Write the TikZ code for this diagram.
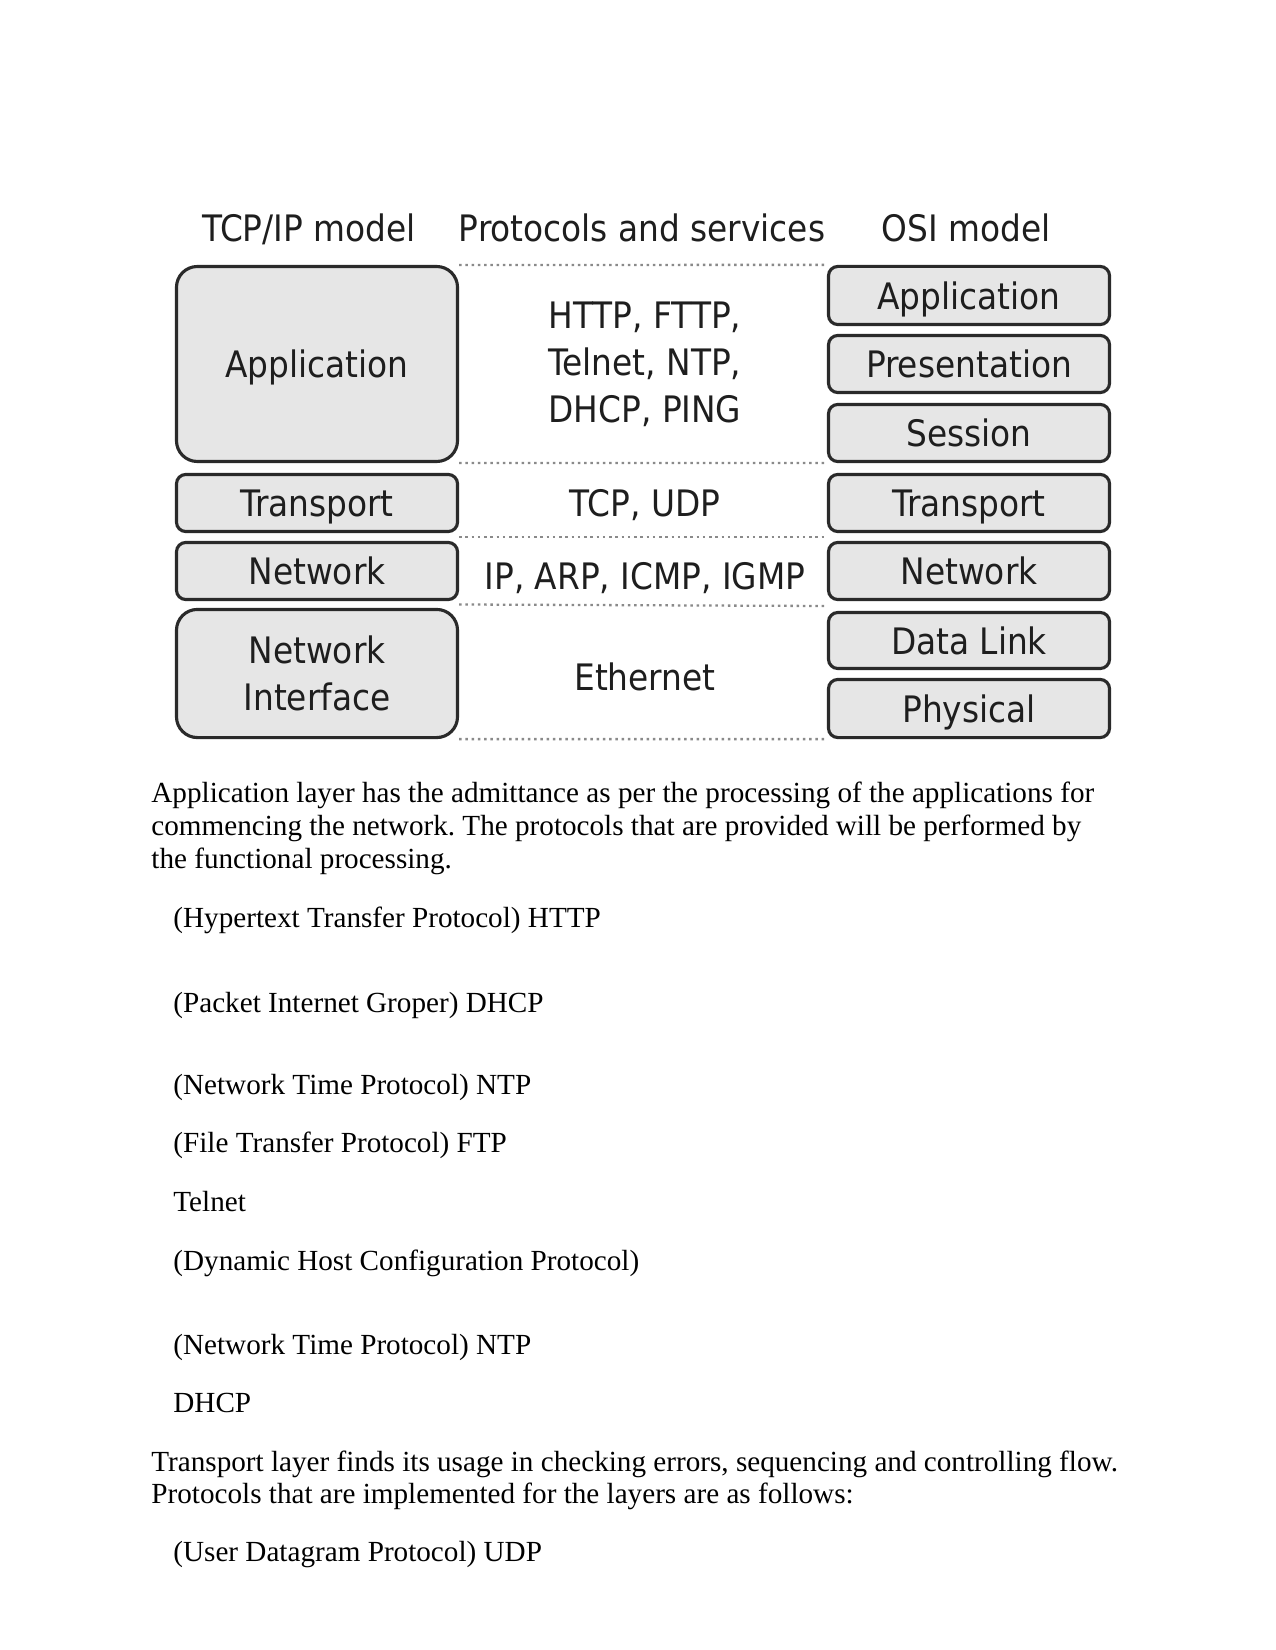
\documentclass[tikz,border=0pt]{standalone}
\usepackage{fontspec}
\setmainfont{Liberation Serif}
\newfontfamily\diagfont{DejaVu Sans Condensed}
\usetikzlibrary{calc}
\definecolor{boxfill}{HTML}{E6E6E6}
\definecolor{boxline}{HTML}{2A2A2A}
\definecolor{diagtext}{HTML}{1E1E1E}
\definecolor{dotcol}{HTML}{8A8A8A}
\frenchspacing
\begin{document}
\begin{tikzpicture}[x=0.48pt,y=-0.48pt,
 dfont/.style={font=\diagfont\fontsize{17.5}{22.6}\selectfont, text=diagtext},
 layer/.style={dfont, draw=boxline, fill=boxfill, line width=1.5pt, rounded corners=4.5pt,
   minimum width=134.9pt, minimum height=27.4pt, inner sep=0pt, align=center, text depth=0pt},
 biglayer/.style={layer, rounded corners=10pt},
 hdr/.style={dfont, inner sep=0pt, anchor=base},
 proto/.style={dfont, inner sep=0pt, align=center},
 sepline/.style={draw=dotcol, line width=1.1pt, dash pattern=on 1.2pt off 1.8pt},
 body/.style={anchor=base west, inner sep=0pt, font=\fontsize{14}{16}\selectfont}]
\useasboundingbox (0,0) rectangle (1275,1650);
\fill[white] (0,0) rectangle (1275,1650);

% headers
\node[hdr] (h1) at (309,242) {TCP/IP model};
\node[hdr] (h2) at (642,242) {Protocols and services};
\node[hdr] (h3) at (966,242) {OSI model};

% TCP/IP column
\node[biglayer, minimum height=93.6pt] (tapp) at (317,364) {Application};
\node[layer] (ttrans) at (317,503) {Transport};
\node[layer] (tnet) at (317,571) {Network};
\node[biglayer, minimum height=61.5pt] (tni) at (317,673.5) {Network\\Interface};

% OSI column
\node[layer, minimum height=27.9pt] (oapp) at (969,295.5) {Application};
\node[layer] (opres) at (969,364) {Presentation};
\node[layer] (osess) at (969,433) {Session};
\node[layer] (otrans) at (969,503) {Transport};
\node[layer] (onet) at (969,571) {Network};
\node[layer, minimum height=26.9pt] (odl) at (969,640.5) {Data Link};
\node[layer, minimum height=27.9pt] (ophys) at (969,708.5) {Physical};

% protocols
\node[proto] (papp) at (645,364) {HTTP, FTTP,\\Telnet, NTP,\\DHCP, PING};
\node[proto, text depth=0pt] (ptrans) at (645,503) {TCP, UDP};
\node[proto, text depth=0pt] (pnet) at (645,576) {IP, ARP, ICMP, IGMP};
\node[proto] (peth) at (645,677) {Ethernet};

% dotted separators
\draw[sepline] (tapp.north east) -- (oapp.north west);
\draw[sepline] (tapp.south east) -- (osess.south west);
\draw[sepline] ($(ttrans.south east)!.5!(tnet.north east)$) -- ($(otrans.south west)!.5!(onet.north west)$);
\draw[sepline] ($(tnet.south east)!.5!(tni.north east)$) -- ($(onet.south west)!.5!(odl.north west)$);
\draw[sepline] (tni.south east) -- (ophys.south west);

% body text
\node[body] (b1) at (151,802) {Application layer has the admittance as per the processing of the applications for};
\node[body] (b2) at (151,835) {commencing the network. The protocols that are provided will be performed by};
\node[body] (b3) at (151,868) {the functional processing.};
\node[body] (l1) at (173,927) {(Hypertext Transfer Protocol) HTTP};
\node[body] (l2) at (173,1012) {(Packet Internet Groper) DHCP};
\node[body] (l3) at (173,1094) {(Network Time Protocol) NTP};
\node[body] (l4) at (173,1152) {(File Transfer Protocol) FTP};
\node[body] (l5) at (173,1211) {Telnet};
\node[body] (l6) at (173,1270) {(Dynamic Host Configuration Protocol)};
\node[body] (l7) at (173,1354) {(Network Time Protocol) NTP};
\node[body] (l8) at (173,1412) {DHCP};
\node[body] (t1) at (151,1471) {Transport layer finds its usage in checking errors, sequencing and controlling flow.};
\node[body] (t2) at (151,1503) {Protocols that are implemented for the layers are as follows:};
\node[body] (l9) at (173,1561) {(User Datagram Protocol) UDP};
\end{tikzpicture}
\end{document}
